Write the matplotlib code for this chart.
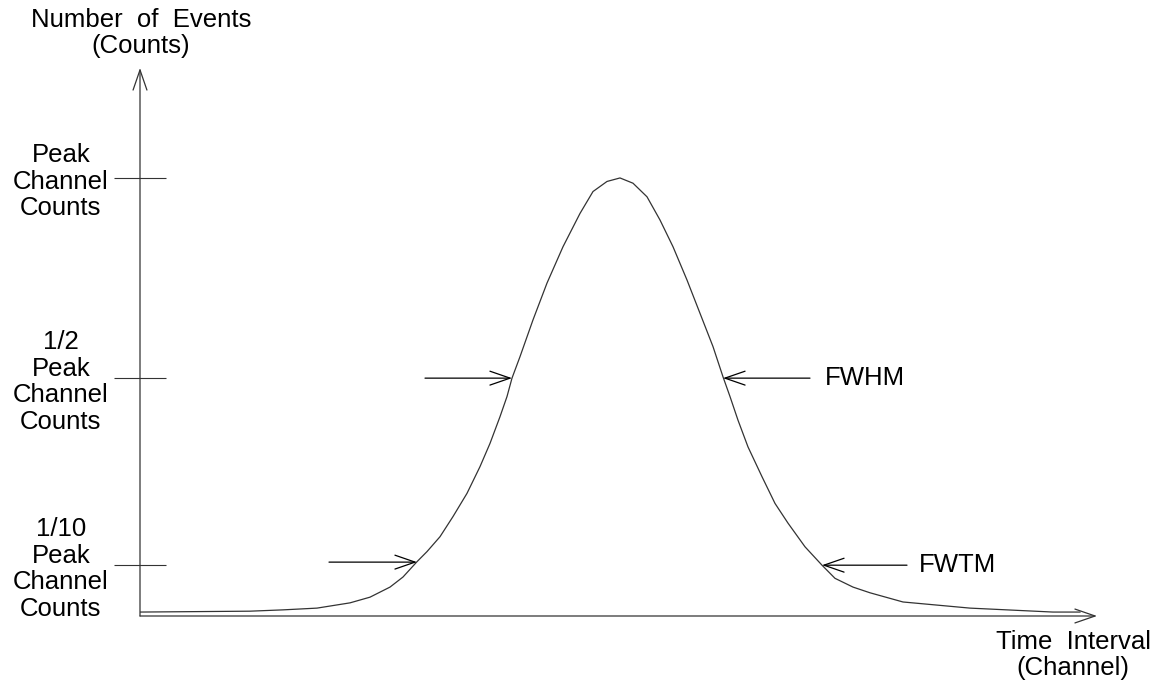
import matplotlib.pyplot as plt

plt.rcParams['font.family'] = ['Liberation Sans', 'DejaVu Sans']

# curve (channel, counts; peak = 100)
channel = [0, 11.0, 14.3, 17.7, 21.0, 23.0, 25.0, 26.3, 27.7, 28.7, 30.0, 31.3,
           32.7, 34.0, 35.0, 36.0, 36.7, 37.2, 38.0, 39.3, 40.7, 42.3, 44.0,
           45.3, 46.7, 48.0, 49.3, 50.7, 52.0, 53.3, 54.7, 56.0, 57.3, 58.3,
           59.0, 59.8, 60.8, 62.2, 63.5, 64.8, 66.5, 68.2, 69.5, 71.3, 73.0,
           76.3, 83.0, 91.3, 94.0]
counts = [0.9, 1.1, 1.4, 1.8, 3.0, 4.3, 6.6, 8.9, 12.4, 14.7, 18.1, 22.7,
          28.0, 34.1, 39.4, 45.5, 50.1, 54.3, 59.2, 67.6, 76.0, 84.3, 91.9,
          96.9, 99.2, 100, 98.8, 95.7, 90.4, 84.3, 76.7, 69.1, 61.5, 54.6,
          50.1, 44.7, 38.6, 31.8, 25.7, 21.2, 15.8, 11.6, 8.6, 6.6, 5.3,
          3.2, 1.8, 0.9, 0.9]

levels = [100, 54.3, 11.6]
level_labels = ['Peak\nChannel\nCounts',
                '1/2\nPeak\nChannel\nCounts',
                '1/10\nPeak\nChannel\nCounts']

# width markers: (arrow start x, arrow end x, y)
half_left = (28.5, 37.2, 54.3)
half_right = (67.0, 58.3, 54.3)
tenth_left = (18.9, 27.7, 12.3)
tenth_right = (76.7, 68.2, 11.6)

fig = plt.figure(figsize=(11.62, 6.86), dpi=100)
ax = fig.add_axes([140 / 1162, 70 / 686, 957 / 1162, 548 / 686])
ax.set_xlim(0, 95.7)
ax.set_ylim(0, 125.1)
for s in ax.spines.values():
    s.set_visible(False)

ax.plot(channel, counts, color='#333333', lw=0.9)

arrow_style = '->,head_length=1.45,head_width=0.5'
# axes with arrows
ax.annotate('', xy=(0, 1), xytext=(0, 0), xycoords='axes fraction',
            arrowprops=dict(arrowstyle=arrow_style, color='#333333', lw=0.9,
                            shrinkA=0, shrinkB=0))
ax.annotate('', xy=(1, 0), xytext=(0, 0), xycoords='axes fraction',
            arrowprops=dict(arrowstyle=arrow_style, color='#333333', lw=0.9,
                            shrinkA=0, shrinkB=0))

ax.set_xticks([])
ax.set_yticks(levels)
ax.set_yticklabels(level_labels, fontsize=18.5, multialignment='center',
                   linespacing=1.14)
ax.tick_params(axis='y', direction='inout', length=37, width=0.8,
               color='#333333', pad=4)

for x0, x1, y in [half_left, half_right, tenth_left, tenth_right]:
    ax.annotate('', xy=(x1, y), xytext=(x0, y),
                arrowprops=dict(arrowstyle=arrow_style, color='black', lw=0.9,
                                shrinkA=0, shrinkB=0))

ax.text(68.5, half_right[2], 'FWHM', fontsize=18.5, ha='left', va='center')
ax.text(77.9, tenth_right[2], 'FWTM', fontsize=18.5, ha='left', va='center')

fig.text(141 / 1162, 1 - 33 / 686, 'Number  of  Events\n(Counts)', fontsize=18.5,
         ha='center', va='center', multialignment='center', linespacing=1.14)
fig.text(1073 / 1162, 1 - 655 / 686, 'Time  Interval\n(Channel)', fontsize=18.5,
         ha='center', va='center', multialignment='center', linespacing=1.14)

plt.savefig('out.png', dpi=100)
